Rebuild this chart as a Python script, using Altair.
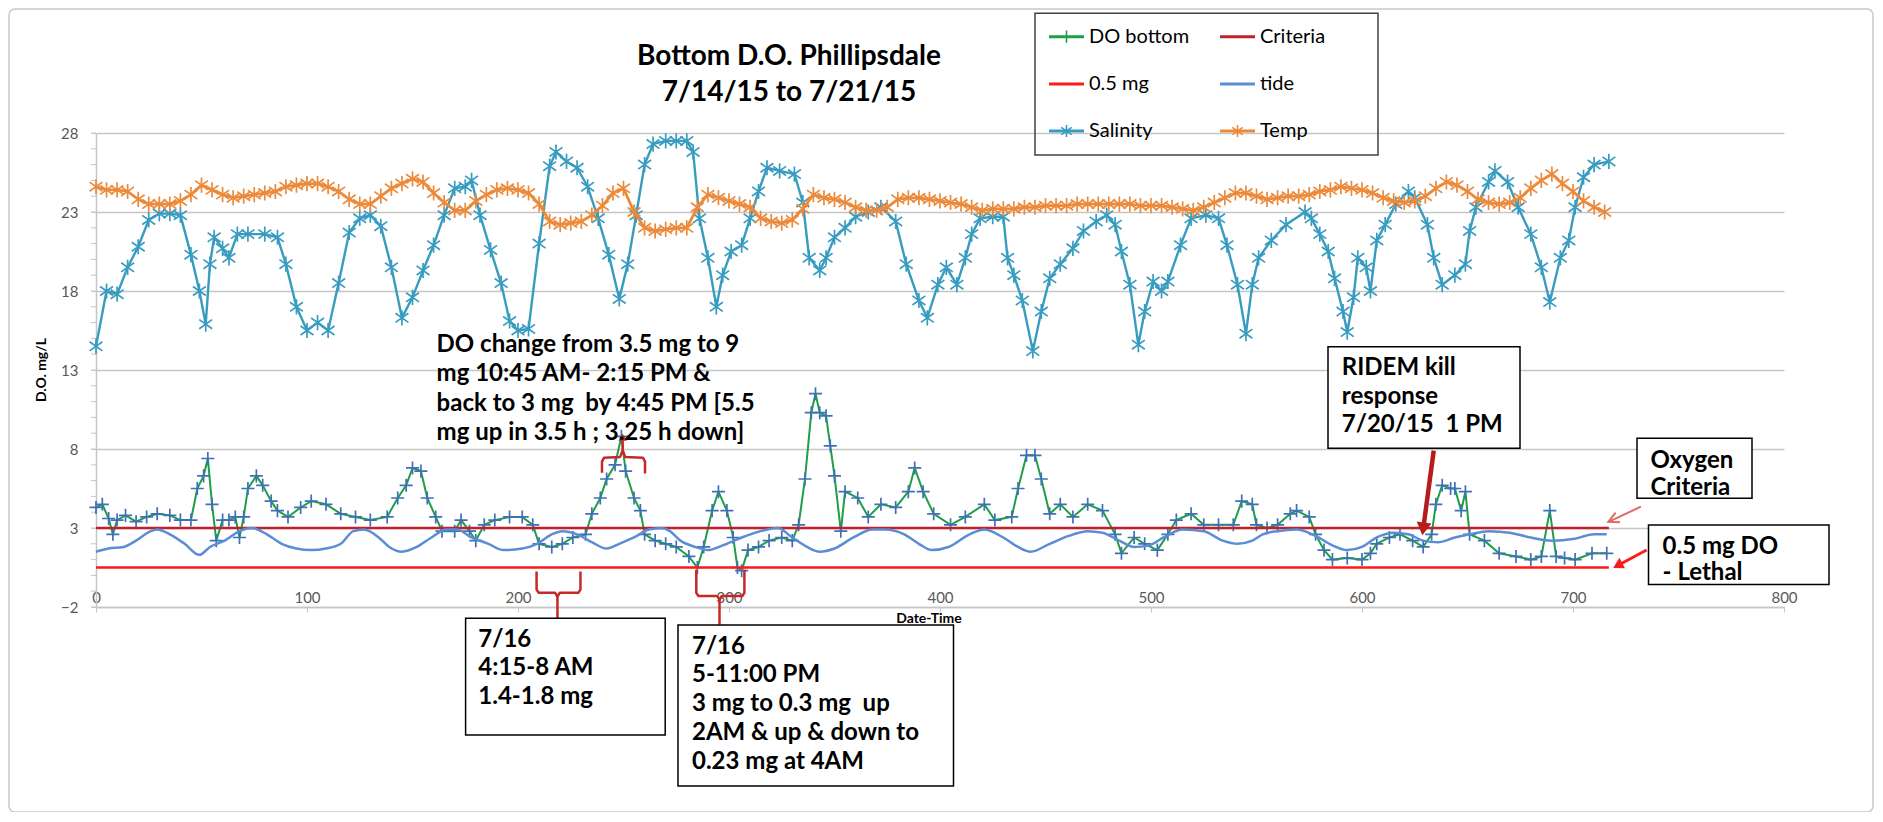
import altair as alt
import pandas as pd

FONT = "Lato"
NB = "\u00a0"

# ---------------- data ----------------
sal_x = [0, 5, 10, 15, 20, 25, 30, 35, 40, 45, 49, 52, 54, 56, 60, 63, 67, 72, 80, 86, 90, 95, 100, 105, 110,
         115, 120, 125, 130, 135, 140, 145, 150, 155, 160, 165, 170, 175, 178, 182, 187, 192, 196, 200, 205,
         210, 215, 218, 223, 228, 233, 238, 243, 248, 252, 256, 260, 264, 270, 275, 280, 283, 286, 290, 294,
         297, 301, 306, 310, 314, 318, 324, 331, 335, 338, 343, 346, 350, 355, 360, 366, 372, 379, 384, 390,
         394, 399, 403, 408, 412, 415, 419, 425, 430, 432, 435, 439, 444, 448, 452, 457, 463, 468, 474, 479,
         483, 486, 490, 494, 497, 501, 505, 508, 514, 519, 526, 532, 536, 541, 545, 548, 551, 557, 564, 573,
         576, 580, 584, 587, 591, 593, 596, 598, 602, 604, 607, 611, 616, 622, 625, 631, 634, 638, 644, 649,
         651, 654, 660, 663, 669, 674, 680, 685, 689, 694, 698, 701, 705, 710, 717]
sal_y = [14.5, 18.0, 17.8, 19.5, 20.8, 22.5, 22.9, 22.9, 22.8, 20.3, 18.0, 15.9, 19.7, 21.4, 20.7, 20.1, 21.6, 21.6, 21.6, 21.4, 19.7, 17.0, 15.5, 16.0, 15.5,
         18.5, 21.7, 22.6, 22.8, 22.1, 19.5, 16.3, 17.6, 19.3, 20.9, 22.8, 24.5, 24.6, 25.0, 22.8, 20.6, 18.5, 16.1, 15.5, 15.6,
         21.0, 25.9, 26.8, 26.2, 25.8, 24.6, 22.6, 20.3, 17.5, 19.7, 22.8, 26.0, 27.3, 27.5, 27.5, 27.5, 26.8, 22.6, 20.1, 17.0,
         19.0, 20.5, 20.9, 22.6, 24.3, 25.8, 25.6, 25.4, 23.6, 20.1, 19.3, 20.1, 21.4, 22.0, 22.7, 23.0, 23.3, 22.4, 19.7, 17.4,
         16.3, 18.4, 19.5, 18.4, 20.1, 21.6, 22.6, 22.7, 22.7, 20.1, 19.0, 17.4, 14.2, 16.7, 18.8, 19.7, 20.7, 21.8, 22.4, 22.8,
         22.2, 20.5, 18.4, 14.6, 16.7, 18.6, 18.0, 18.6, 20.9, 22.6, 22.8, 22.6, 20.9, 18.4, 15.3, 18.4, 20.1, 21.2, 22.2, 23.0,
         22.6, 21.6, 20.5, 18.8, 16.7, 15.4, 17.6, 20.1, 19.5, 18.0, 21.2, 22.2, 23.5, 24.3, 23.9, 22.2, 20.1, 18.4, 19.0, 19.7,
         21.8, 23.3, 24.9, 25.6, 24.9, 23.3, 21.6, 19.5, 17.3, 20.1, 21.2, 23.3, 25.2, 26.0, 26.2]

temp_x = list(range(0, 720, 5))
temp_y = [24.6, 24.4, 24.4, 24.3, 23.8, 23.5, 23.5, 23.5, 23.7, 24.1,
          24.7, 24.4, 24.1, 23.9, 24.0, 24.1, 24.2, 24.3, 24.6, 24.7,
          24.8, 24.8, 24.6, 24.3, 23.8, 23.5, 23.5, 24.0, 24.5, 24.8,
          25.1, 24.9, 24.2, 23.6, 23.1, 23.1, 23.7, 24.1, 24.4, 24.5,
          24.4, 24.2, 23.5, 22.4, 22.2, 22.3, 22.4, 22.8, 23.4, 24.2,
          24.5, 23.0, 22.0, 21.8, 21.9, 22.0, 22.0, 23.3, 24.1, 23.9,
          23.7, 23.5, 23.3, 22.6, 22.4, 22.3, 22.5, 23.2, 24.1, 23.9,
          23.8, 23.6, 23.3, 23.1, 23.1, 23.3, 23.8, 23.9, 23.9, 23.8,
          23.7, 23.6, 23.5, 23.3, 23.1, 23.2, 23.2, 23.2, 23.3, 23.3,
          23.4, 23.4, 23.4, 23.5, 23.5, 23.5, 23.5, 23.5, 23.5, 23.4,
          23.4, 23.4, 23.3, 23.2, 23.1, 23.3, 23.6, 23.9, 24.2, 24.2,
          24.0, 23.8, 23.9, 24.0, 24.0, 24.1, 24.3, 24.4, 24.6, 24.5,
          24.4, 24.2, 23.9, 23.7, 23.6, 23.7, 24.0, 24.5, 24.9, 24.7,
          24.3, 23.8, 23.6, 23.5, 23.6, 23.9, 24.5, 25.0, 25.4, 24.8,
          24.3, 23.7, 23.3, 23.0]

do_x = [0, 3, 6, 8, 10, 14, 19, 24, 29, 35, 40, 45, 48, 51, 53, 55, 57, 60, 63, 66, 68, 70, 72, 76, 79,
        83, 86, 91, 97, 102, 109, 116, 123, 130, 138, 143, 147, 150, 154, 157, 161, 164, 170, 173, 177,
        180, 184, 189, 196, 202, 207, 210, 216, 221, 226, 232, 235, 239, 242, 246, 249, 251, 255, 258, 260,
        265, 270, 275, 281, 285, 288, 292, 295, 299, 302, 304, 306, 309, 314, 319, 325, 330, 333, 336, 339,
        341, 343, 346, 348, 350, 353, 355, 361, 366, 372, 379, 385, 388, 392, 397, 405, 412, 421, 426, 434,
        437, 441, 445, 448, 452, 457, 463, 470, 477, 483, 486, 492, 497, 503, 508, 512, 519, 525, 532, 539,
        543, 548, 550, 555, 560, 566, 569, 575, 578, 582, 586, 593, 600, 604, 607, 613, 618, 624, 629, 633,
        635, 638, 642, 644, 647, 649, 651, 658, 665, 673, 680, 685, 689, 692, 696, 701, 709, 716]
do_y = [4.3, 4.5, 3.6, 2.6, 3.5, 3.8, 3.4, 3.7, 3.9, 3.8, 3.5, 3.5, 5.5, 6.3, 7.4, 4.5, 2.2, 3.5, 3.5, 3.7, 2.4, 3.7, 5.5, 6.3, 5.7,
        4.7, 4.1, 3.7, 4.3, 4.7, 4.5, 3.9, 3.7, 3.5, 3.7, 4.9, 5.7, 6.8, 6.6, 4.9, 3.7, 2.8, 2.8, 3.5, 2.8,
        2.2, 3.2, 3.5, 3.7, 3.7, 3.2, 2.0, 1.8, 2.0, 2.4, 2.6, 3.9, 4.9, 6.1, 7.0, 8.8, 6.6, 4.9, 4.1, 2.6,
        2.2, 2.0, 1.8, 1.2, 0.5, 1.8, 4.1, 5.3, 4.1, 2.4, 0.5, 0.3, 1.6, 1.8, 2.2, 2.4, 2.2, 3.2, 6.1, 10.3,
        11.5, 10.3, 10.1, 8.2, 6.3, 2.8, 5.3, 4.9, 3.7, 4.5, 4.3, 5.3, 6.8, 5.3, 3.9, 3.2, 3.7, 4.5, 3.5, 3.7,
        5.5, 7.6, 7.6, 6.1, 3.9, 4.5, 3.7, 4.5, 4.1, 2.6, 1.4, 2.4, 2.0, 1.6, 2.6, 3.5, 3.9, 3.2, 3.2, 3.2,
        4.7, 4.5, 3.2, 3.0, 3.2, 3.9, 4.1, 3.7, 2.6, 1.6, 1.0, 1.1, 1.0, 1.4, 2.0, 2.4, 2.6, 2.2, 1.8, 2.6,
        4.5, 5.7, 5.5, 5.5, 4.1, 5.3, 2.6, 2.2, 1.4, 1.2, 1.0, 1.2, 4.1, 1.2, 1.1, 1.0, 1.4, 1.4]

tide_x = [0, 6, 13, 19, 26, 29, 35, 42, 49, 54, 61, 68, 74, 81, 88, 95, 102, 109, 116, 122, 127, 134, 139, 145,
          152, 159, 166, 171, 178, 186, 193, 202, 209, 216, 221, 228, 235, 242, 248, 255, 262, 268, 272, 277,
          284, 290, 297, 306, 315, 323, 330, 337, 343, 350, 359, 368, 374, 383, 390, 396, 404, 414, 421, 430,
          437, 443, 452, 461, 470, 477, 485, 492, 499, 506, 515, 525, 534, 541, 548, 553, 560, 569, 578, 586,
          593, 600, 607, 615, 622, 629, 636, 644, 651, 660, 670, 680, 690, 700, 710, 716]
tide_y = [1.5, 1.7, 1.8, 2.2, 2.8, 2.9, 2.6, 2.0, 1.3, 1.8, 2.2, 2.8, 3.0, 2.6, 2.0, 1.7, 1.6, 1.7, 2.0, 2.8, 2.9, 2.4, 1.8, 1.5,
          1.8, 2.4, 2.9, 2.9, 2.4, 2.0, 1.6, 1.7, 2.0, 2.6, 2.8, 2.6, 2.1, 1.7, 2.0, 2.4, 2.9, 3.0, 2.8, 2.2,
          1.8, 1.6, 1.9, 2.4, 2.8, 3.0, 2.4, 1.8, 1.5, 1.7, 2.4, 2.9, 2.9, 2.6, 2.0, 1.6, 1.8, 2.6, 2.9, 2.4,
          1.8, 1.5, 2.0, 2.5, 2.8, 2.7, 2.2, 1.8, 1.9, 2.4, 2.9, 2.8, 2.2, 2.0, 2.2, 2.6, 2.8, 2.9, 2.5, 1.9,
          1.6, 1.8, 2.4, 2.7, 2.6, 2.2, 2.1, 2.4, 2.6, 2.8, 2.7, 2.4, 2.2, 2.3, 2.6, 2.6]

crit_x = [0, 717]
crit_y = [3, 3]
lethal_x = [0, 717]
lethal_y = [0.5, 0.5]

x_ticks = [0, 100, 200, 300, 400, 500, 600, 700, 800]
y_major = [-2, 3, 8, 13, 18, 23, 28]
y_minor = list(range(-2, 29))

# ---------------- style ----------------
C_DO = "#1E9E48"
C_DO_MK = "#3F70B6"
C_SAL = "#379CC0"
C_TEMP = "#EC8A3B"
C_TIDE = "#5B8DD6"
C_CRIT = "#C0202A"
C_LETH = "#FF1A1A"
C_GRID = "#C6C6C6"
C_BR = "#C62828"

PLUS = "M-1,0L1,0M0,-1L0,1"
STAR = "M0,-1L0,1M-0.85,-0.6L0.85,0.6M-0.85,0.6L0.85,-0.6"

W, H = 1688, 474
ANN = 24  # annotation font size


def X(field="x"):
    return alt.X(f"{field}:Q", scale=alt.Scale(domain=[0, 800], nice=False, zero=False),
                 axis=alt.Axis(values=x_ticks, grid=False, title=None, labelFontSize=15, labelColor="#595959",
                               labelFont=FONT, labelBaseline="middle", labelPadding=-15, tickSize=5,
                               tickColor=C_GRID, domainColor=C_GRID, domainWidth=1.5, labelFlush=False))


def Y(field="y"):
    return alt.Y(f"{field}:Q", scale=alt.Scale(domain=[-2, 28], nice=False, zero=False),
                 axis=alt.Axis(values=y_major, grid=True, gridColor=C_GRID, gridWidth=1.6, title=None,
                               labelFontSize=15, labelColor="#595959", labelFont=FONT, labelPadding=13,
                               tickSize=5, tickColor=C_GRID, domainColor=C_GRID, domainWidth=1.5))


def df(xs, ys):
    return pd.DataFrame({"x": xs, "y": ys})


one = pd.DataFrame({"a": [0]})
layers = []

# outer border (transparent so the axes and grid stay visible)
layers.append(alt.Chart(one).mark_rect(fill=None, stroke="#C8C8C8", strokeWidth=1.5, cornerRadius=6).encode(
    x=alt.value(-87), x2=alt.value(1777), y=alt.value(-124), y2=alt.value(679)))

# minor ticks on the y axis
layers.append(alt.Chart(pd.DataFrame({"y": y_minor})).mark_rule(color=C_GRID, strokeWidth=1).encode(
    y=Y(), x=alt.value(-5), x2=alt.value(0)))

# series
layers.append(alt.Chart(df(do_x, do_y)).mark_line(color=C_DO, strokeWidth=2).encode(x=X(), y=Y()))
layers.append(alt.Chart(df(do_x, do_y)).mark_point(shape=PLUS, size=170, filled=False, color=C_DO_MK,
                                                   strokeWidth=1.7, opacity=1).encode(x=X(), y=Y()))
layers.append(alt.Chart(df(crit_x, crit_y)).mark_line(color=C_CRIT, strokeWidth=2.5).encode(x=X(), y=Y()))
layers.append(alt.Chart(df(lethal_x, lethal_y)).mark_line(color=C_LETH, strokeWidth=2.5).encode(x=X(), y=Y()))
layers.append(alt.Chart(df(tide_x, tide_y)).mark_line(color=C_TIDE, strokeWidth=2.5, interpolate="monotone").encode(x=X(), y=Y()))
layers.append(alt.Chart(df(sal_x, sal_y)).mark_line(color=C_SAL, strokeWidth=2.4).encode(x=X(), y=Y()))
layers.append(alt.Chart(df(sal_x, sal_y)).mark_point(shape=STAR, size=230, filled=False, color=C_SAL,
                                                     strokeWidth=1.7, opacity=1).encode(x=X(), y=Y()))
layers.append(alt.Chart(df(temp_x, temp_y)).mark_line(color=C_TEMP, strokeWidth=2.8).encode(x=X(), y=Y()))
layers.append(alt.Chart(df(temp_x, temp_y)).mark_point(shape=STAR, size=230, filled=False, color=C_TEMP,
                                                       strokeWidth=1.7, opacity=1).encode(x=X(), y=Y()))

# brackets (data coordinates)
br_top_x = [239.8, 239.8, 240.8, 248.4, 249.6, 250.8, 259.2, 260.2, 260.2]
br_top_y = [6.5, 7.2, 7.45, 7.5, 7.9, 7.5, 7.45, 7.2, 6.45]
br1_x = [208.8, 208.8, 209.8, 217.6, 218.7, 219.8, 228.6, 229.6, 229.6]
br1_y = [0.25, -0.9, -1.1, -1.1, -1.35, -1.1, -1.1, -0.9, 0.25]
br2_x = [284.5, 284.5, 285.5, 294.4, 295.5, 296.6, 306.3, 307.3, 307.3]
br2_y = [0.36, -1.1, -1.3, -1.3, -1.55, -1.3, -1.3, -1.1, 0.36]
for bx, by in [(br_top_x, br_top_y), (br1_x, br1_y), (br2_x, br2_y)]:
    d = pd.DataFrame({"x": bx, "y": by, "i": list(range(len(bx)))})
    layers.append(alt.Chart(d).mark_line(color=C_BR, strokeWidth=2.5, strokeJoin="round").encode(
        x=X(), y=Y(), order="i:Q"))

# stems / arrows in data coordinates
segs = pd.DataFrame({"x": [218.7, 295.5, 249.6], "y": [-1.35, -1.55, 7.9],
                     "x2": [218.7, 295.5, 249.6], "y2": [-2.7, -3.12, 8.55]})
layers.append(alt.Chart(segs).mark_rule(color=C_BR, strokeWidth=2.5).encode(
    x=X(), y=Y(), x2="x2:Q", y2="y2:Q"))
layers.append(alt.Chart(df([249.6], [8.75])).mark_point(shape="triangle-up", filled=True, size=70, color=C_BR,
                                                        opacity=1).encode(x=X(), y=Y()))
ridem = pd.DataFrame({"x": [634.0], "y": [7.9], "x2": [629.0], "y2": [2.94]})
layers.append(alt.Chart(ridem).mark_rule(color="#B71C1C", strokeWidth=4.5).encode(x=X(), y=Y(), x2="x2:Q", y2="y2:Q"))
layers.append(alt.Chart(df([629.0], [2.94])).mark_point(shape="triangle-up", filled=True, size=220, color="#B71C1C",
                                                        opacity=1, angle=187.6).encode(x=X(), y=Y()))

# arrows in pixel coordinates (to the criteria lines)
layers.append(alt.Chart(one).mark_rule(color="#E06A6A", strokeWidth=2).encode(
    x=alt.value(1544.9), y=alt.value(373.7), x2=alt.value(1513.5), y2=alt.value(388.3)))
layers.append(alt.Chart(one).mark_point(shape="M-1,1L0,-1L1,1", filled=False, size=110, color="#E06A6A",
                                        strokeWidth=2, opacity=1, angle=245.1).encode(
    x=alt.value(1517.1), y=alt.value(386.6)))
layers.append(alt.Chart(one).mark_rule(color=C_LETH, strokeWidth=3).encode(
    x=alt.value(1550.6), y=alt.value(417), x2=alt.value(1521.7), y2=alt.value(432.5)))
layers.append(alt.Chart(one).mark_point(shape="triangle-up", filled=True, size=140, color=C_LETH,
                                        opacity=1, angle=241.8).encode(x=alt.value(1521.7), y=alt.value(432.5)))


def box(x1, x2, y1, y2, fill="white", stroke="black"):
    return alt.Chart(one).mark_rect(fill=fill, stroke=stroke, strokeWidth=1.5).encode(
        x=alt.value(x1), x2=alt.value(x2), y=alt.value(y1), y2=alt.value(y2))


def txt(s, x, y, size=ANN, weight="bold", align="left", color="black", angle=0):
    s = s.replace("  ", " " + NB)
    return alt.Chart(pd.DataFrame({"t": [s]})).mark_text(
        font=FONT, fontSize=size, fontWeight=weight, align=align, baseline="middle", color=color,
        angle=angle).encode(text="t:N", x=alt.value(x), y=alt.value(y))


# annotation boxes
layers.append(box(369.6, 569.2, 485.3, 602))
layers.append(box(582, 857.5, 492, 653))
layers.append(box(1232, 1424, 213.7, 315.3))
layers.append(box(1541, 1656, 305.3, 365.3))
layers.append(box(1552.5, 1733, 392, 451.5))
# legend box (transparent)
layers.append(alt.Chart(one).mark_rect(fill=None, stroke="#404040", strokeWidth=1.5).encode(
    x=alt.value(939), x2=alt.value(1282), y=alt.value(-119.7), y2=alt.value(22)))

# annotation texts
for i, s in enumerate(["DO change from 3.5 mg to 9", "mg 10:45 AM- 2:15 PM &",
                       "back to 3 mg  by 4:45 PM [5.5", "mg up in 3.5 h ; 3.25 h down]"]):
    layers.append(txt(s, 340.6, 211.5 + 29.5 * i))
for s, yy in zip(["7/16", "4:15-8 AM", "1.4-1.8 mg"], [507, 535.3, 563.7]):
    layers.append(txt(s, 382.3, yy))
for s, yy in zip(["7/16", "5-11:00 PM", "3 mg to 0.3 mg  up", "2AM & up & down to", "0.23 mg at 4AM"],
                 [513.7, 542, 571, 600.3, 628.7]):
    layers.append(txt(s, 596, yy))
for s, yy in zip(["RIDEM kill", "response", "7/20/15  1 PM"], [235.3, 263.7, 292]):
    layers.append(txt(s, 1245.8, yy))
for s, yy in zip(["Oxygen", "Criteria"], [327.7, 355.3]):
    layers.append(txt(s, 1554.5, yy))
for s, yy in zip(["0.5 mg DO", "- Lethal"], [413.7, 440.3]):
    layers.append(txt(s, 1566.6, yy))

# title and axis titles
layers.append(txt("Bottom D.O. Phillipsdale", 693, -76.3, size=28, align="center"))
layers.append(txt("7/14/15 to 7/21/15", 693, -40, size=28, align="center"))
layers.append(txt("D.O. mg/L", -54, 237, size=14, align="center", angle=270))
layers.append(txt("Date-Time", 833, 486, size=14, align="center"))

# legend entries
legend = [
    ("DO bottom", 953, -96.3, C_DO, PLUS), ("Criteria", 1124, -96.3, C_CRIT, None),
    ("0.5 mg", 953, -49, C_LETH, None), ("tide", 1124, -49, C_TIDE, None),
    ("Salinity", 953, -2, C_SAL, STAR), ("Temp", 1124, -2, C_TEMP, STAR),
]
for name, lx, ly, col, shp in legend:
    layers.append(alt.Chart(one).mark_rule(color=col, strokeWidth=3).encode(
        x=alt.value(lx), x2=alt.value(lx + 35), y=alt.value(ly)))
    if shp is not None:
        layers.append(alt.Chart(one).mark_point(shape=shp, size=150, filled=False, color=col,
                                                strokeWidth=1.6, opacity=1).encode(
            x=alt.value(lx + 17.5), y=alt.value(ly)))
    layers.append(txt(name, lx + 40, ly, size=20, weight="normal"))

chart = alt.layer(*layers).properties(
    width=W, height=H,
    autosize=alt.AutoSizeParams(type="none"),
    padding={"left": 88, "top": 125, "right": 91, "bottom": 205},
    background="white",
).configure_view(stroke=None)

chart.save("out.html", embed_options={"renderer": "svg", "actions": False})
